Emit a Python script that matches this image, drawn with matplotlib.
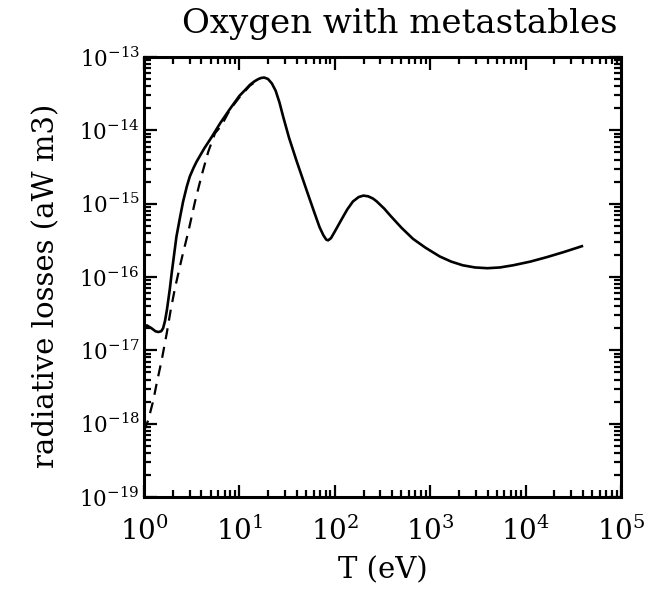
import matplotlib
matplotlib.use("Agg")
import matplotlib.pyplot as plt
import matplotlib.ticker as mticker
import numpy as np

# values, as log10(T [eV]) and log10(losses [aW m3])
# solid curve: with metastables
log_T_solid = [0.00, 0.03, 0.08, 0.12, 0.15, 0.18, 0.20, 0.22, 0.24, 0.27,
               0.29, 0.31, 0.34, 0.38, 0.41, 0.45, 0.48, 0.52, 0.55, 0.63,
               0.71, 0.80, 0.90, 1.00, 1.06, 1.11, 1.16, 1.20, 1.23, 1.26,
               1.30, 1.34, 1.38, 1.42, 1.46, 1.52, 1.60, 1.70, 1.78, 1.84,
               1.88, 1.91, 1.93, 1.96, 2.00, 2.06, 2.13, 2.19, 2.25, 2.30,
               2.35, 2.40, 2.44, 2.52, 2.58, 2.70, 2.82, 2.95, 3.10, 3.22,
               3.34, 3.47, 3.60, 3.73, 3.87, 4.05, 4.22, 4.40, 4.59]
log_L_solid = [-16.68, -16.66, -16.70, -16.74, -16.75, -16.74, -16.70, -16.60, -16.45, -16.17,
               -15.95, -15.75, -15.45, -15.17, -14.97, -14.76, -14.63, -14.51, -14.43, -14.25,
               -14.09, -13.90, -13.71, -13.53, -13.45, -13.38, -13.33, -13.30, -13.285, -13.28,
               -13.30, -13.36, -13.46, -13.62, -13.82, -14.10, -14.42, -14.80, -15.10, -15.32,
               -15.43, -15.49, -15.50, -15.47, -15.38, -15.24, -15.08, -14.97, -14.91, -14.89,
               -14.90, -14.93, -14.97, -15.07, -15.16, -15.33, -15.48, -15.60, -15.72, -15.79,
               -15.84, -15.87, -15.88, -15.87, -15.84, -15.79, -15.73, -15.66, -15.58]

# dashed curve: ground state only
log_T_dash = [0.00, 0.045, 0.098, 0.133, 0.186, 0.238, 0.28, 0.325, 0.395, 0.465,
              0.535, 0.605, 0.674, 0.744, 0.814, 0.90, 1.00, 1.11, 1.20]
log_L_dash = [-18.10, -17.95, -17.68, -17.45, -17.13, -16.77, -16.45, -16.15, -15.75, -15.38,
              -14.97, -14.61, -14.29, -14.04, -13.93, -13.72, -13.55, -13.39, -13.31]

x_ticks = [1e0, 1e1, 1e2, 1e3, 1e4, 1e5]
x_ticklabels = [r'$10^{0}$', r'$10^{1}$', r'$10^{2}$', r'$10^{3}$', r'$10^{4}$', r'$10^{5}$']
y_ticks = [1e-19, 1e-18, 1e-17, 1e-16, 1e-15, 1e-14, 1e-13]
y_ticklabels = [r'$10^{-19}$', r'$10^{-18}$', r'$10^{-17}$', r'$10^{-16}$',
                r'$10^{-15}$', r'$10^{-14}$', r'$10^{-13}$']

plt.rcParams['font.family'] = ['DejaVu Serif']
plt.rcParams['mathtext.fontset'] = 'dejavuserif'

fig = plt.figure(figsize=(6.52, 5.91), dpi=100)
ax = fig.add_axes([144/652, 1 - 497/591, (621-144)/652, (497-57)/591])

ax.plot(10**np.array(log_T_solid), 10**np.array(log_L_solid), color='black', lw=1.9)
ax.plot(10**np.array(log_T_dash), 10**np.array(log_L_dash), color='black', lw=1.6,
        dashes=(5, 3.5))

ax.set_xscale('log')
ax.set_yscale('log')
ax.set_xlim(1, 1e5)
ax.set_ylim(1e-19, 1e-13)

ax.set_xticks(x_ticks)
ax.set_xticklabels(x_ticklabels, fontsize=20)
ax.set_yticks(y_ticks)
ax.set_yticklabels(y_ticklabels, fontsize=15.5)
ax.xaxis.set_minor_locator(mticker.LogLocator(base=10, subs=np.arange(2, 10), numticks=20))
ax.yaxis.set_minor_locator(mticker.LogLocator(base=10, subs=np.arange(2, 10), numticks=20))
ax.xaxis.set_minor_formatter(mticker.NullFormatter())
ax.yaxis.set_minor_formatter(mticker.NullFormatter())

ax.tick_params(which='both', direction='in', top=True, right=True, width=1.6)
ax.tick_params(which='major', length=9, pad=3)
ax.tick_params(which='minor', length=5)
ax.tick_params(axis='x', which='major', pad=14)
for s in ax.spines.values():
    s.set_linewidth(2.2)

ax.set_xlabel('T (eV)', fontsize=21, labelpad=8)
ax.set_ylabel('radiative losses (aW m3)', fontsize=21)
ax.yaxis.set_label_coords(-0.175, 0.48)
fig.text(400/652, 1 - 24/591, 'Oxygen with metastables', fontsize=24.5,
         ha='center', va='center')

fig.savefig('out.png', dpi=100)
